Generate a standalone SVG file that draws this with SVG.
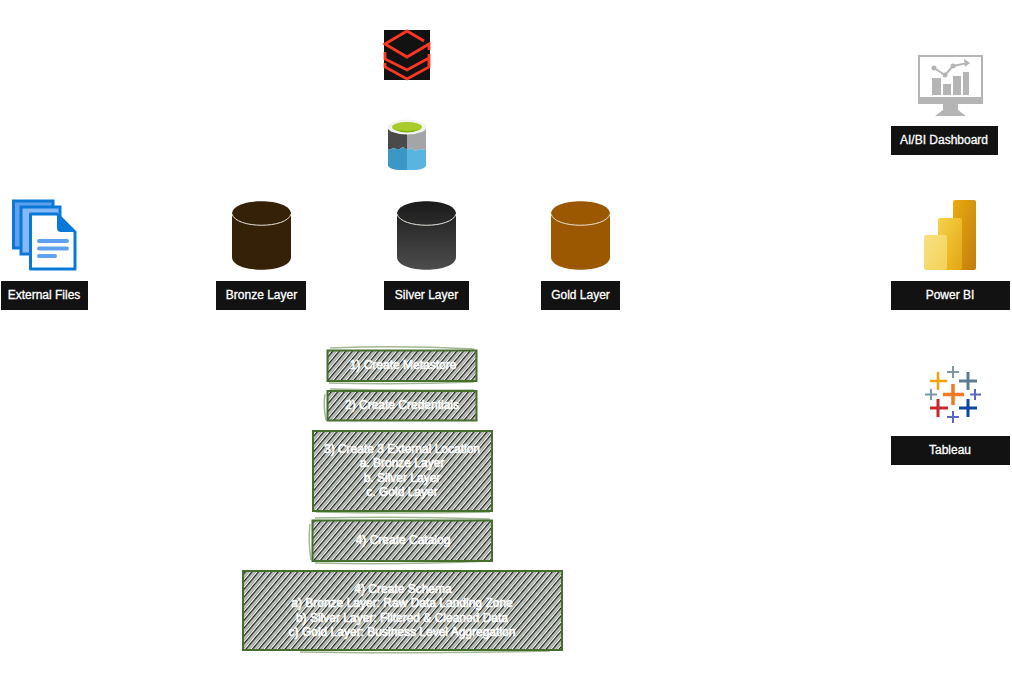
<svg xmlns="http://www.w3.org/2000/svg" width="1012" height="676" viewBox="0 0 1012 676">
<style>
.lb{fill:#121212}
.t{font-family:"Liberation Sans",Arial,sans-serif;font-size:12px;font-weight:400;fill:#fff;stroke:#fff;stroke-width:.3px;text-anchor:middle}
.s{stroke-width:.6px}
.h{fill:url(#hatch);stroke:#456f2c;stroke-width:2}
.g{fill:none;stroke:#456f2c;stroke-width:1.500;opacity:.5}
.c1{fill:#352008}.c2{fill:url(#sil)}.c3{fill:#9c5800}
.rim{fill:none;stroke:#e8e4dc;stroke-width:1}
.dark{stroke:#ff3621;stroke-width:2.800;fill:none}
.ic{fill:#b5b5b5}
</style>
<defs>
<pattern id="hatch" width="5" height="5" patternUnits="userSpaceOnUse" patternTransform="rotate(-50)">
<rect width="5" height="5" fill="#fff"/>
<rect width="5" height="1.500" y="0" fill="#1f241d"/>
<rect width="5" height="1.200" y="2.600" fill="#7f897b"/>
</pattern>
<linearGradient id="sil" x1="0" y1="0" x2="0" y2="1"><stop offset="0" stop-color="#1a1a1a"/><stop offset="1" stop-color="#4d4d4d"/></linearGradient>
<linearGradient id="pb1" x1="0" y1="0" x2="1" y2="1"><stop offset="0" stop-color="#e8ac10"/><stop offset="1" stop-color="#c27c0c"/></linearGradient>
<linearGradient id="pb2" x1="0" y1="0" x2="1" y2="1"><stop offset="0" stop-color="#f5d24c"/><stop offset="1" stop-color="#e3a60f"/></linearGradient>
<linearGradient id="pb3" x1="0" y1="0" x2="1" y2="1"><stop offset="0" stop-color="#f8e083"/><stop offset="1" stop-color="#f3d257"/></linearGradient>
</defs>
<g id="connectors"></g>
<g id="databricks">
<rect x="384" y="30" width="46" height="50" fill="#121212"/>
<path class="dark" d="M424 41 407 31 385 44 407 57 429 44V50M385 52V59L407 70 429 58V54M385 63V67L407 79 429 67V58"/>
</g>
<g id="adls">
<path d="M388 128H407V150L403 147 398 150 394 148 388 150Z" fill="#4a4a4a"/>
<path d="M407 128H426V150L420 149 415 151 411 148 407 150Z" fill="#a3a5a7"/>
<path d="M388 150 394 148 398 150 403 147 407 150V170H400Q391 170 388 166Z" fill="#3b97c6"/>
<path d="M407 150 411 148 415 151 420 149 426 150V166Q423 170 414 170H407Z" fill="#59b5df"/>
<ellipse cx="407" cy="127" rx="19.500" ry="7.500" fill="#f2f3ef"/>
<ellipse cx="407" cy="127" rx="15" ry="5" fill="#a9cb2b"/>
<path d="M393 129Q407 136 421 129 407 133 393 129Z" fill="#7fb000"/>
</g>
<g id="external-files">
<rect x="13.500" y="201" width="39.500" height="47" fill="#5ea1ee" stroke="#0a78d7" stroke-width="3"/>
<rect x="21" y="207" width="39" height="47" fill="#85baf9" stroke="#0a78d7" stroke-width="3"/>
<path d="M30.500 214H57L75 232V269H30.500Z" fill="#fff" stroke="#0a78d7" stroke-width="3" stroke-linejoin="round"/>
<path d="M57 214V228Q57 232 61 232H75Z" fill="#0a78d7"/>
<path d="M39 241H67M39 248.500H67M39 256H55" stroke="#5ea1ee" stroke-width="4" stroke-linecap="round"/>
<rect x="1" y="281" width="87" height="29" class="lb"/>
<text class="t" x="44" y="299">External Files</text>
</g>
<g id="bronze-layer">
<path class="c1" d="M232 214C232 197 291 197 291 214V257C291 274 232 274 232 257Z"/>
<path class="rim" d="M232 214C236 229 287 229 291 214"/>
<rect x="216" y="281" width="90" height="29" class="lb"/>
<text class="t" x="261.500" y="299">Bronze Layer</text>
</g>
<g id="silver-layer">
<path class="c2" d="M397 214C397 197 456 197 456 214V257C456 274 397 274 397 257Z"/>
<path class="rim" d="M397 214C401 229 452 229 456 214"/>
<rect x="384" y="281" width="85" height="29" class="lb"/>
<text class="t" x="426.500" y="299">Silver Layer</text>
</g>
<g id="gold-layer">
<path class="c3" d="M551 214C551 197 610 197 610 214V257C610 274 551 274 551 257Z"/>
<path class="rim" d="M551 214C555 229 606 229 610 214"/>
<rect x="541" y="281" width="79" height="29" class="lb"/>
<text class="t" x="580.500" y="299">Gold Layer</text>
</g>
<g id="ai-bi-dashboard">
<path class="ic" fill-rule="evenodd" d="M918 55H983V104H958V110L966 116H935L943 110V104H918ZM920 57V97H981V57Z"/>
<path class="ic" d="M932 78H941V95H932ZM943 84H951V95H943ZM953 76H961V95H953ZM963 72H969V95H963Z"/>
<path d="M934 68 945 75 953 66 968 63" fill="none" stroke="#b5b5b5" stroke-width="2"/>
<circle cx="934" cy="68" r="2.500" class="ic"/><circle cx="945" cy="75" r="2.500" class="ic"/><circle cx="953" cy="66" r="2.500" class="ic"/>
<path class="ic" d="M964 59 970 63 965 67Z"/>
<rect x="891" y="126" width="107" height="29" class="lb"/>
<text class="t" x="944" y="144">AI/BI Dashboard</text>
</g>
<g id="power-bi">
<rect x="953" y="200" width="23" height="70" rx="2" fill="url(#pb1)"/>
<rect x="938" y="218" width="24" height="52" rx="2" fill="url(#pb2)"/>
<rect x="924" y="235" width="23" height="35" rx="2" fill="url(#pb3)"/>
<rect x="891" y="281" width="119" height="29" class="lb"/>
<text class="t" x="950" y="299">Power BI</text>
</g>
<g id="tableau" fill="none" stroke-width="2">
<path d="M953 366V378M947 372H959" stroke="#7c97a6"/>
<path d="M938 372V390M930 381H947" stroke="#f4a20c" stroke-width="2.500"/>
<path d="M968 372V390M959 381H977" stroke="#5f7a8d" stroke-width="3"/>
<path d="M931 389V400M925 394.500H937" stroke="#7c97a6"/>
<path d="M953 384V405M943 394.500H964" stroke="#ee7a25" stroke-width="3.500"/>
<path d="M975 389V400M970 394.500H981" stroke="#5a68c1"/>
<path d="M938 399V417M930 408H948" stroke="#c9262f" stroke-width="3"/>
<path d="M968 399V417M959 408H977" stroke="#0e479f" stroke-width="3"/>
<path d="M953 411V423M947 417H959" stroke="#5a68c1"/>
</g>
<g id="tableau-label">
<rect x="891" y="436" width="119" height="29" class="lb"/>
<text class="t" x="950" y="454">Tableau</text>
</g>
<g id="step-metastore">
<rect class="h" x="327.500" y="350.500" width="149" height="30.500"/>
<path class="g" d="M330 348Q400 345 474 349M329 383Q400 385 474 382"/>
<text class="t s" x="403" y="369">1) Create Metastore</text>
</g>
<g id="step-credentials">
<rect class="h" x="327.500" y="391" width="149" height="29.500"/>
<path class="g" d="M325 394Q323 405 326 420M330 389Q400 391 474 390"/>
<text class="t s" x="402" y="409">2) Create Credentials</text>
</g>
<g id="step-external-location">
<rect class="h" x="313" y="431" width="179" height="80"/>
<path class="g" d="M316 512Q400 514 490 512"/>
<text class="t s"><tspan x="402" y="453">3) Create 3 External Location</tspan><tspan x="402" y="467">a. Bronze Layer</tspan><tspan x="402" y="482">b. Silver Layer</tspan><tspan x="402" y="496">c. Gold Layer</tspan></text>
</g>
<g id="step-catalog">
<rect class="h" x="312.500" y="520.500" width="179.500" height="40.500"/>
<path class="g" d="M315 518Q400 516 490 519M310 524Q308 540 311 560M315 563Q400 565 490 561"/>
<text class="t s" x="403" y="544">4) Create Catalog</text>
</g>
<g id="step-schema">
<rect class="h" x="243" y="571" width="319" height="79"/>
<path class="g" d="M300 652Q400 654 550 651"/>
<text class="t s"><tspan x="403" y="593">4) Create Schema</tspan><tspan x="402" y="607">a) Bronze Layer: Raw Data Landing Zone</tspan><tspan x="402" y="622">b) Silver Layer: Filtered &amp; Cleaned Data</tspan><tspan x="402" y="636">c) Gold Layer: Business Level Aggregation</tspan></text>
</g>
</svg>
